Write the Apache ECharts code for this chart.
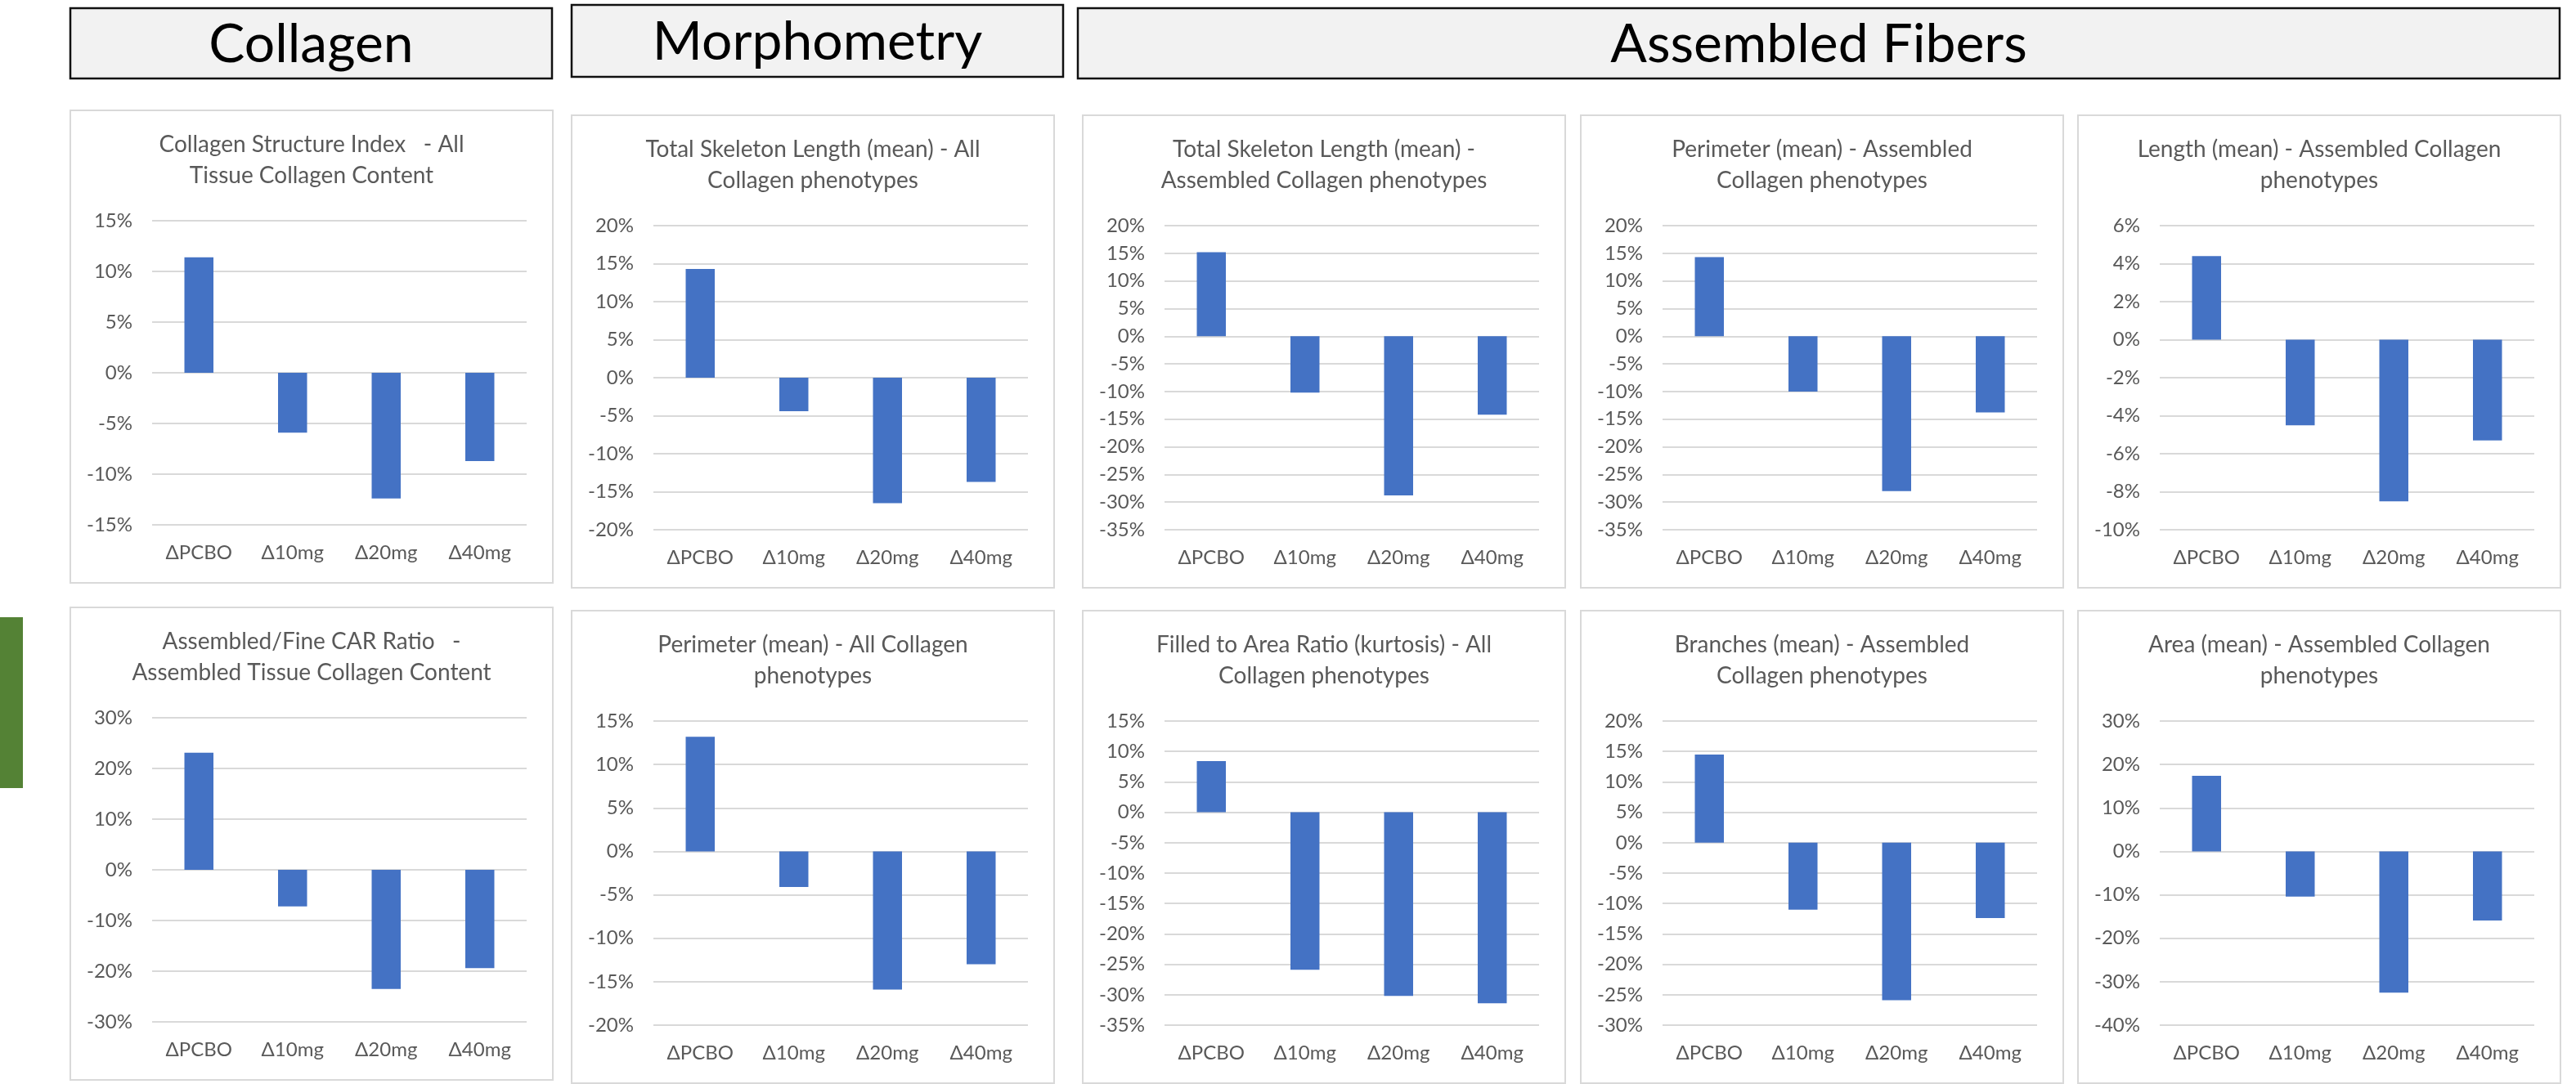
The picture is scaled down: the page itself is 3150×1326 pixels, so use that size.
<!DOCTYPE html>
<html>
<head>
<meta charset="utf-8">
<script src="https://cdn.jsdelivr.net/npm/echarts@6/dist/echarts.min.js"></script>
<style>
  html, body { margin: 0; padding: 0; background: #fff; }
  #charts { width: 3150px; height: 1326px; }
</style>
</head>
<body>
<div id="charts"></div>
<script>
  // categories shared by every panel
  var categories = ['ΔPCBO', 'Δ10mg', 'Δ20mg', 'Δ40mg'];

  // values (%)
  var collagenStructureIndex = [11.4, -5.9, -12.4, -8.7];
  var skeletonLengthAll = [14.3, -4.4, -16.5, -13.7];
  var skeletonLengthAssembled = [15.2, -10.2, -28.8, -14.2];
  var perimeterAssembled = [14.3, -10.0, -28.0, -13.8];
  var lengthAssembled = [4.4, -4.5, -8.5, -5.3];
  var carRatioAssembled = [23.1, -7.2, -23.5, -19.4];
  var perimeterAll = [13.2, -4.1, -15.9, -13.0];
  var filledAreaRatioAll = [8.4, -25.9, -30.2, -31.4];
  var branchesAssembled = [14.5, -11.0, -25.9, -12.4];
  var areaAssembled = [17.4, -10.4, -32.5, -15.9];

  // y axis ticks: [min, max, step]
  var ticks15 = [-15, 15, 5];
  var ticks20 = [-20, 20, 5];
  var ticksPerim = [-20, 15, 5];
  var ticks35 = [-35, 20, 5];
  var ticksLen = [-10, 6, 2];
  var ticks30 = [-30, 30, 10];
  var ticksFilled = [-35, 15, 5];
  var ticksBranches = [-30, 20, 5];
  var ticksArea = [-40, 30, 10];

  var headers = ['Collagen', 'Morphometry', 'Assembled Fibers'];

  var panels = [
    { title: 'Collagen Structure Index   - All\nTissue Collagen Content', data: collagenStructureIndex, ticks: ticks15 },
    { title: 'Total Skeleton Length (mean) - All\nCollagen phenotypes', data: skeletonLengthAll, ticks: ticks20 },
    { title: 'Total Skeleton Length (mean) -\nAssembled Collagen phenotypes', data: skeletonLengthAssembled, ticks: ticks35 },
    { title: 'Perimeter (mean) - Assembled\nCollagen phenotypes', data: perimeterAssembled, ticks: ticks35 },
    { title: 'Length (mean) - Assembled Collagen\nphenotypes', data: lengthAssembled, ticks: ticksLen },
    { title: 'Assembled/Fine CAR Ratio   -\nAssembled Tissue Collagen Content', data: carRatioAssembled, ticks: ticks30 },
    { title: 'Perimeter (mean) - All Collagen\nphenotypes', data: perimeterAll, ticks: ticksPerim },
    { title: 'Filled to Area Ratio (kurtosis) - All\nCollagen phenotypes', data: filledAreaRatioAll, ticks: ticksFilled },
    { title: 'Branches (mean) - Assembled\nCollagen phenotypes', data: branchesAssembled, ticks: ticksBranches },
    { title: 'Area (mean) - Assembled Collagen\nphenotypes', data: areaAssembled, ticks: ticksArea }
  ];

  // layout (pixels)
  var boxes = [
    [86, 135], [699, 141], [1324, 141], [1933, 141], [2541, 141],
    [86, 743], [699, 747], [1324, 747], [1933, 747], [2541, 747]
  ];
  var boxW = 590, boxH = 578;
  var headerBoxes = [[86, 10, 589, 86], [699, 6, 601, 88], [1318, 10, 1812, 86]];

  var textColor = '#595959';
  var font = 'Lato';

  var option = {
    backgroundColor: '#ffffff',
    animation: false,
    title: [],
    grid: [],
    xAxis: [],
    yAxis: [],
    series: [],
    graphic: []
  };

  panels.forEach(function (p, i) {
    var x = boxes[i][0], y = boxes[i][1];
    option.graphic.push({
      type: 'rect',
      shape: { x: x, y: y, width: boxW, height: boxH },
      style: { fill: 'rgba(0,0,0,0)', stroke: '#d9d9d9', lineWidth: 2 },
      silent: true
    });
    option.title.push({
      text: p.title,
      left: x + boxW / 2,
      top: y + 23,
      textAlign: 'center',
      padding: 0,
      textStyle: { fontFamily: font, fontSize: 28, fontWeight: 'normal', color: textColor, lineHeight: 38 }
    });
    option.grid.push({ left: x + 100, top: y + 135, width: boxW - 132, height: 372 });
    option.xAxis.push({
      type: 'category',
      gridIndex: i,
      data: categories,
      position: 'bottom',
      axisLine: { show: false },
      axisTick: { show: false },
      axisLabel: { fontFamily: font, fontSize: 24, color: textColor, margin: 22 }
    });
    option.yAxis.push({
      type: 'value',
      gridIndex: i,
      min: p.ticks[0],
      max: p.ticks[1],
      interval: p.ticks[2],
      axisLine: { show: false },
      axisTick: { show: false },
      splitLine: { lineStyle: { color: '#d9d9d9', width: 2 } },
      axisLabel: {
        fontFamily: font, fontSize: 24, color: textColor, margin: 24,
        formatter: function (v) { return v + '%'; }
      }
    });
    option.series.push({
      type: 'bar',
      xAxisIndex: i,
      yAxisIndex: i,
      data: p.data,
      barWidth: '31%',
      itemStyle: { color: '#4472c4' }
    });
  });

  headers.forEach(function (h, i) {
    var b = headerBoxes[i];
    option.graphic.push({
      type: 'rect',
      shape: { x: b[0], y: b[1], width: b[2], height: b[3] },
      style: { fill: '#f2f2f2', stroke: '#111111', lineWidth: 2.5 },
      silent: true
    });
    option.graphic.push({
      type: 'text',
      x: b[0] + b[2] / 2,
      y: b[1] + b[3] / 2 + 2,
      style: {
        text: h,
        fill: '#000000',
        fontFamily: font,
        fontSize: 66,
        align: 'center',
        verticalAlign: 'middle',
        textAlign: 'center',
        textVerticalAlign: 'middle'
      },
      silent: true
    });
  });

  // green marker on the left edge
  option.graphic.push({
    type: 'rect',
    shape: { x: 0, y: 755, width: 28, height: 209 },
    style: { fill: '#548235' },
    silent: true
  });

  var myChart = echarts.init(document.getElementById('charts'));
  myChart.setOption(option);
</script>
</body>
</html>
